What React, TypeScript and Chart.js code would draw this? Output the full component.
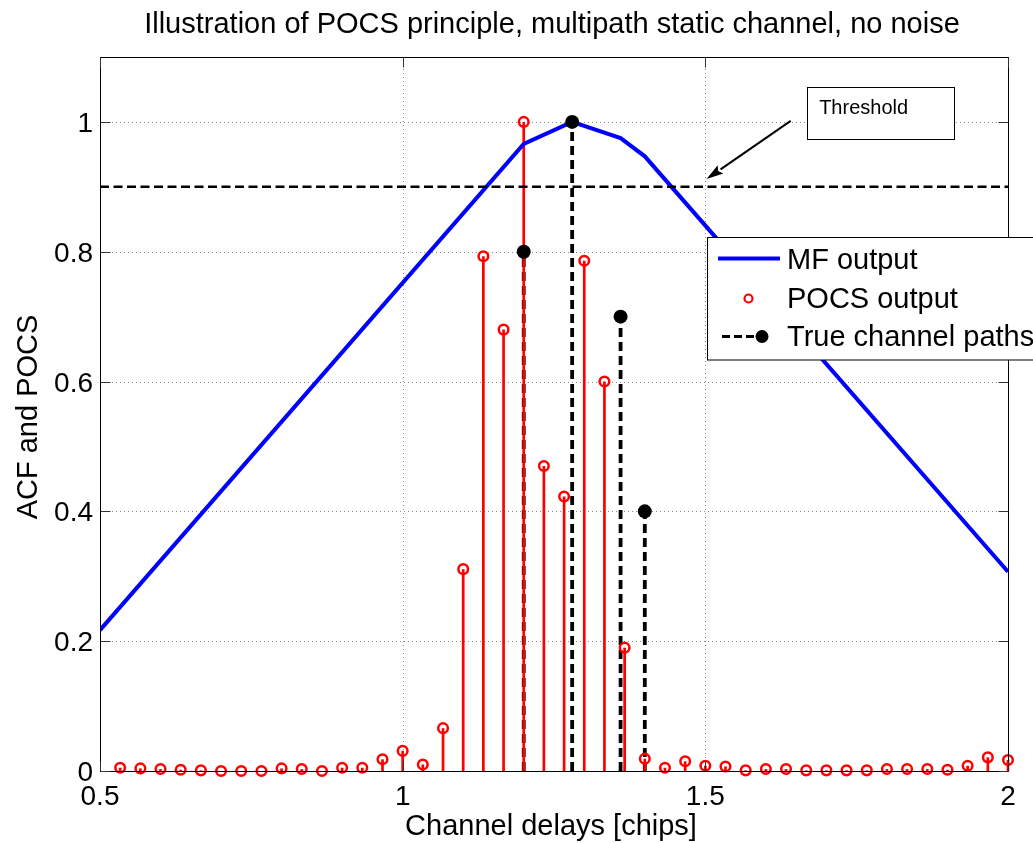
import React, { useEffect, useRef } from "react";
import { Chart, registerables } from "chart.js";

Chart.register(...registerables);

// ---------------- Data ----------------
const titleText = "Illustration of POCS principle, multipath static channel, no noise";
const xLabelText = "Channel delays [chips]";
const yLabelText = "ACF and POCS";

const xTickValues = [0.5, 1, 1.5, 2];
const xTickLabels = ["0.5", "1", "1.5", "2"];
const yTickValues = [0, 0.2, 0.4, 0.6, 0.8, 1];
const yTickLabels = ["0", "0.2", "0.4", "0.6", "0.8", "1"];

// MF output (matched filter / ACF)
const mfDelays = [0.5, 1.2, 1.28, 1.36, 1.4, 2.0];
const mfValues = [0.217, 0.966, 1.0, 0.975, 0.947, 0.307];

// POCS output (stem plot)
const pocsDelays = [
  0.5333, 0.5667, 0.6, 0.6333, 0.6667, 0.7, 0.7333, 0.7667, 0.8, 0.8333,
  0.8667, 0.9, 0.9333, 0.9667, 1.0, 1.0333, 1.0667, 1.1, 1.1333, 1.1667,
  1.2, 1.2333, 1.2667, 1.3, 1.3333, 1.3667, 1.4, 1.4333, 1.4667, 1.5,
  1.5333, 1.5667, 1.6, 1.6333, 1.6667, 1.7, 1.7333, 1.7667, 1.8, 1.8333,
  1.8667, 1.9, 1.9333, 1.9667, 2.0,
];
const pocsValues = [
  0.005, 0.004, 0.003, 0.002, 0.001, 0.0, 0.0, 0.0, 0.004, 0.003,
  0.0, 0.005, 0.005, 0.018, 0.031, 0.01, 0.066, 0.311, 0.793, 0.68,
  1.0, 0.47, 0.423, 0.786, 0.6, 0.19, 0.019, 0.005, 0.015, 0.008,
  0.007, 0.001, 0.003, 0.003, 0.001, 0.001, 0.001, 0.001, 0.003, 0.003,
  0.003, 0.002, 0.008, 0.021, 0.017,
];

// True channel paths
const pathDelays = [1.2, 1.28, 1.36, 1.4];
const pathGains = [0.8, 1.0, 0.7, 0.4];

// Threshold
const thresholdDelays = [0.5, 2.0];
const thresholdValues = [0.9, 0.9];

// Annotation (data coordinates)
const annotationText = "Threshold";
const arrowFrom = { x: 1.641, y: 1.0015 };
const arrowTo = { x: 1.502, y: 0.912 };
const annoBox = { x1: 1.668, y1: 1.054, x2: 1.911, y2: 0.974 };
const annoTextPos = { x: 1.688, y: 1.012 };

const legendLabels = ["MF output", "POCS output", "True channel paths"];

// ---------------- Styles ----------------
const FONT = '"Liberation Sans", Arial, Helvetica, sans-serif';
const BLUE = "#0000ff";
const RED = "#ff0000";
const BLACK = "#000000";

const toXY = (xs: number[], ys: number[]) => xs.map((x, i) => ({ x, y: ys[i] }));

const figurePlugin = {
  id: "matlabFigure",
  beforeDatasetsDraw(chart: any) {
    const { ctx, chartArea: ca, scales } = chart;
    const xs = scales.x;
    const ys = scales.y;
    ctx.save();
    // dotted grid
    ctx.strokeStyle = "#8a8a8a";
    ctx.lineWidth = 1;
    ctx.setLineDash([1, 3]);
    for (const v of xTickValues) {
      const px = Math.round(xs.getPixelForValue(v)) + 0.5;
      ctx.beginPath();
      ctx.moveTo(px, ca.top);
      ctx.lineTo(px, ca.bottom);
      ctx.stroke();
    }
    for (const v of yTickValues) {
      const py = Math.round(ys.getPixelForValue(v)) + 0.5;
      ctx.beginPath();
      ctx.moveTo(ca.left, py);
      ctx.lineTo(ca.right, py);
      ctx.stroke();
    }
    ctx.setLineDash([]);

    // stems
    chart.data.datasets.forEach((ds: any, i: number) => {
      if (!ds.stem) return;
      const meta = chart.getDatasetMeta(i);
      const y0 = ys.getPixelForValue(0);
      ctx.strokeStyle = ds.stemColor;
      ctx.lineWidth = ds.stemWidth;
      ctx.setLineDash(ds.stemDash || []);
      meta.data.forEach((el: any) => {
        ctx.beginPath();
        ctx.moveTo(el.x, y0);
        ctx.lineTo(el.x, el.y);
        ctx.stroke();
      });
    });
    ctx.restore();
  },
  afterDraw(chart: any) {
    const { ctx, chartArea: ca, scales } = chart;
    const xs = scales.x;
    const ys = scales.y;
    ctx.save();
    ctx.setLineDash([]);

    // axes box
    ctx.strokeStyle = BLACK;
    ctx.lineWidth = 1;
    const L = Math.round(ca.left) + 0.5;
    const R = Math.round(ca.right) + 0.5;
    const T = Math.round(ca.top) + 0.5;
    const B = Math.round(ca.bottom) + 0.5;
    ctx.strokeRect(L, T, R - L, B - T);

    // inward ticks
    ctx.strokeStyle = "#333";
    for (const v of xTickValues) {
      const px = Math.round(xs.getPixelForValue(v)) + 0.5;
      ctx.beginPath();
      ctx.moveTo(px, B);
      ctx.lineTo(px, B - 10);
      ctx.moveTo(px, T);
      ctx.lineTo(px, T + 10);
      ctx.stroke();
    }
    for (const v of yTickValues) {
      const py = Math.round(ys.getPixelForValue(v)) + 0.5;
      ctx.beginPath();
      ctx.moveTo(L, py);
      ctx.lineTo(L + 10, py);
      ctx.moveTo(R, py);
      ctx.lineTo(R - 10, py);
      ctx.stroke();
    }

    // tick labels
    ctx.fillStyle = BLACK;
    ctx.font = `28px ${FONT}`;
    ctx.textAlign = "center";
    ctx.textBaseline = "alphabetic";
    xTickValues.forEach((v, i) => {
      ctx.fillText(xTickLabels[i], xs.getPixelForValue(v), 805);
    });
    ctx.textAlign = "right";
    yTickValues.forEach((v, i) => {
      ctx.fillText(yTickLabels[i], 93, ys.getPixelForValue(v) + 10);
    });

    // title and axis labels
    ctx.font = `29px ${FONT}`;
    ctx.textAlign = "center";
    ctx.fillText(titleText, 552, 33);
    ctx.fillText(xLabelText, 551, 835);
    ctx.save();
    ctx.translate(37, 417);
    ctx.rotate(-Math.PI / 2);
    ctx.fillText(yLabelText, 0, 0);
    ctx.restore();

    // annotation: textbox + arrow
    const bx1 = Math.round(xs.getPixelForValue(annoBox.x1)) + 0.5;
    const bx2 = Math.round(xs.getPixelForValue(annoBox.x2)) + 0.5;
    const by1 = Math.round(ys.getPixelForValue(annoBox.y1)) + 0.5;
    const by2 = Math.round(ys.getPixelForValue(annoBox.y2)) + 0.5;
    ctx.fillStyle = "#ffffff";
    ctx.fillRect(bx1, by1, bx2 - bx1, by2 - by1);
    ctx.strokeStyle = BLACK;
    ctx.lineWidth = 1;
    ctx.strokeRect(bx1, by1, bx2 - bx1, by2 - by1);
    ctx.fillStyle = BLACK;
    ctx.font = `20px ${FONT}`;
    ctx.textAlign = "left";
    ctx.fillText(annotationText, xs.getPixelForValue(annoTextPos.x), ys.getPixelForValue(annoTextPos.y));

    const ax1 = xs.getPixelForValue(arrowFrom.x);
    const ay1 = ys.getPixelForValue(arrowFrom.y);
    const ax2 = xs.getPixelForValue(arrowTo.x);
    const ay2 = ys.getPixelForValue(arrowTo.y);
    const ang = Math.atan2(ay2 - ay1, ax2 - ax1);
    const headLen = 17;
    const headW = 5;
    const hx = ax2 - headLen * Math.cos(ang);
    const hy = ay2 - headLen * Math.sin(ang);
    ctx.strokeStyle = BLACK;
    ctx.lineWidth = 2;
    ctx.beginPath();
    ctx.moveTo(ax1, ay1);
    ctx.lineTo(hx, hy);
    ctx.stroke();
    ctx.beginPath();
    ctx.moveTo(ax2, ay2);
    ctx.lineTo(hx + headW * Math.sin(ang), hy - headW * Math.cos(ang));
    ctx.lineTo(hx + 3 * Math.cos(ang), hy + 3 * Math.sin(ang));
    ctx.lineTo(hx - headW * Math.sin(ang), hy + headW * Math.cos(ang));
    ctx.closePath();
    ctx.fill();

    // legend
    ctx.fillStyle = "#ffffff";
    ctx.fillRect(707.5, 237.5, 340, 122.5);
    ctx.strokeStyle = BLACK;
    ctx.lineWidth = 1;
    ctx.strokeRect(707.5, 237.5, 340, 122.5);
    // MF
    ctx.strokeStyle = BLUE;
    ctx.lineWidth = 4;
    ctx.beginPath();
    ctx.moveTo(718, 258.5);
    ctx.lineTo(780, 258.5);
    ctx.stroke();
    // POCS
    ctx.strokeStyle = RED;
    ctx.lineWidth = 2.2;
    ctx.beginPath();
    ctx.arc(748.5, 298.5, 4, 0, Math.PI * 2);
    ctx.stroke();
    // True paths
    ctx.strokeStyle = BLACK;
    ctx.lineWidth = 3;
    ctx.setLineDash([8, 4]);
    ctx.beginPath();
    ctx.moveTo(722, 336.5);
    ctx.lineTo(764, 336.5);
    ctx.stroke();
    ctx.setLineDash([]);
    ctx.fillStyle = BLACK;
    ctx.beginPath();
    ctx.arc(762, 336.5, 6.5, 0, Math.PI * 2);
    ctx.fill();
    ctx.font = `29px ${FONT}`;
    ctx.textAlign = "left";
    ctx.fillText(legendLabels[0], 787, 269);
    ctx.fillText(legendLabels[1], 787, 308);
    ctx.fillText(legendLabels[2], 787, 346);

    ctx.restore();
  },
};

export default function App() {
  const canvasRef = useRef<HTMLCanvasElement | null>(null);

  useEffect(() => {
    const canvas = canvasRef.current;
    if (!canvas) return;
    const chart = new Chart(canvas, {
      type: "scatter",
      data: {
        datasets: [
          {
            type: "scatter",
            label: legendLabels[2],
            data: toXY(pathDelays, pathGains),
            pointRadius: 7,
            pointBackgroundColor: BLACK,
            pointBorderColor: BLACK,
            pointBorderWidth: 0,
            showLine: false,
            clip: false,
            stem: true,
            stemColor: BLACK,
            stemWidth: 3.8,
            stemDash: [9, 5],
          } as any,
          {
            type: "scatter",
            label: legendLabels[1],
            data: toXY(pocsDelays, pocsValues),
            pointRadius: 4.8,
            pointBackgroundColor: "rgba(0,0,0,0)",
            pointBorderColor: RED,
            pointBorderWidth: 2.5,
            showLine: false,
            clip: false,
            stem: true,
            stemColor: RED,
            stemWidth: 2.7,
          } as any,
          {
            type: "line",
            label: "Threshold",
            data: toXY(thresholdDelays, thresholdValues),
            borderColor: BLACK,
            borderWidth: 2.6,
            borderDash: [9, 4.5],
            pointRadius: 0,
            fill: false,
          } as any,
          {
            type: "line",
            label: legendLabels[0],
            data: toXY(mfDelays, mfValues),
            borderColor: BLUE,
            borderWidth: 4,
            pointRadius: 0,
            fill: false,
            tension: 0,
          } as any,
        ],
      },
      options: {
        responsive: false,
        animation: false,
        devicePixelRatio: 1,
        layout: { padding: { top: 57, right: 25, left: 0, bottom: 0 } },
        plugins: {
          legend: { display: false },
          title: { display: false },
          tooltip: { enabled: false },
        },
        scales: {
          x: {
            type: "linear",
            min: 0.5,
            max: 2,
            ticks: { display: false },
            grid: { display: false },
            border: { display: false },
            afterFit: (s: any) => {
              s.height = 72;
            },
          },
          y: {
            type: "linear",
            min: 0,
            max: 1.1,
            ticks: { display: false },
            grid: { display: false },
            border: { display: false },
            afterFit: (s: any) => {
              s.width = 100;
            },
          },
        },
      } as any,
      plugins: [figurePlugin],
    });
    return () => chart.destroy();
  }, []);

  return (
    <div style={{ position: "absolute", left: 0, top: 0, width: 1033, height: 843, background: "#fff" }}>
      <canvas ref={canvasRef} width={1033} height={843} style={{ display: "block" }} />
    </div>
  );
}
